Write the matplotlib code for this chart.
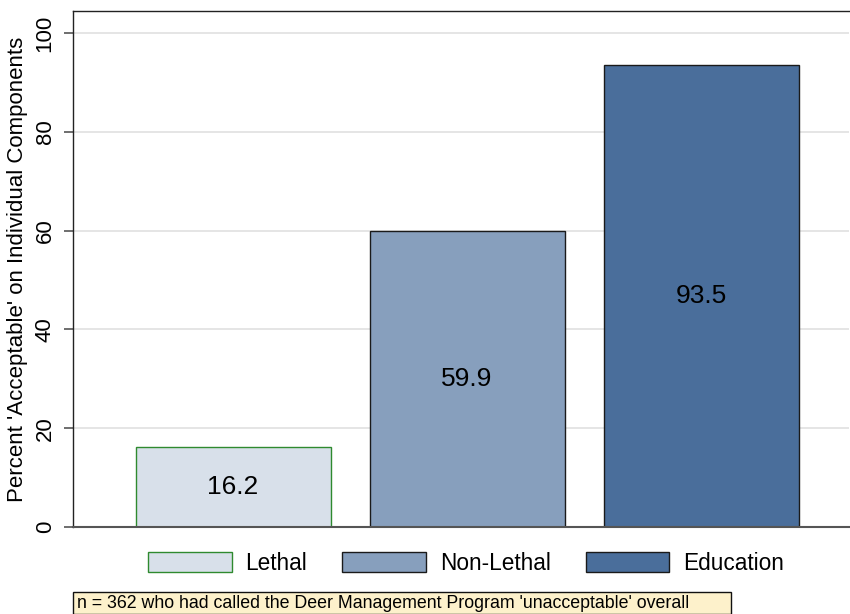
import matplotlib.pyplot as plt
from matplotlib.patches import Rectangle

plt.rcParams['font.family'] = ['Liberation Sans', 'DejaVu Sans']

# data
categories = ["Lethal", "Non-Lethal", "Education"]
percents = [16.2, 59.9, 93.5]
fills = ["#d8e0ea", "#879fbd", "#4a6e9b"]
edges = ["#2f8a2f", "#1a1a1a", "#1a1a1a"]
yticks = [0, 20, 40, 60, 80, 100]
note = "n = 362 who had called the Deer Management Program 'unacceptable' overall"

fig = plt.figure(figsize=(8.5, 6.14), dpi=100)
W, H = 850, 614
ax = fig.add_axes([73 / W, 1 - 527 / H, (849 - 73) / W, (527 - 11) / H])

pos = [1, 2, 3]
bars = ax.bar(pos, percents, width=0.833, color=fills, edgecolor=edges,
              linewidth=1.0, zorder=3)

for x, v in zip(pos, percents):
    ax.text(x, v / 2, f"{v:.1f}", ha="center", va="center", fontsize=19, zorder=4)

ax.set_xlim(0.316, 3.632)
ax.set_ylim(0, 104.5)
ax.set_xticks([])
ax.set_yticks(yticks)
ax.set_yticklabels([str(t) for t in yticks], rotation=90, va="center", fontsize=16)
ax.tick_params(axis="y", length=6.5, width=1.2, color="#555555", pad=6)
ax.yaxis.grid(True, color="#e3e3e3", linewidth=1.3, zorder=0)
ax.set_ylabel("Percent 'Acceptable' on Individual Components", fontsize=16, labelpad=5)

for s in ["left", "top"]:
    ax.spines[s].set_color("#222222")
    ax.spines[s].set_linewidth(1.0)
ax.spines["right"].set_visible(False)
ax.spines["bottom"].set_color("#555555")
ax.spines["bottom"].set_linewidth(1.5)
ax.spines["bottom"].set_zorder(5)

fig.legend(handles=list(bars), labels=categories, loc="center", ncol=3,
           bbox_to_anchor=(466 / W, 1 - 563 / H), frameon=False, fontsize=16.3,
           handlelength=3.7, handleheight=1.0, handletextpad=0.6,
           columnspacing=1.55)

# note box at the bottom
fig.patches.append(Rectangle((73 / W, 0), (731 - 73) / W, (614 - 592) / H,
                             transform=fig.transFigure, facecolor="#fdf1cb",
                             edgecolor="#111111", linewidth=1.0))
fig.text(77 / W, 1 - 603 / H, note, ha="left", va="center", fontsize=12.8)

fig.savefig("out.png", dpi=100)
